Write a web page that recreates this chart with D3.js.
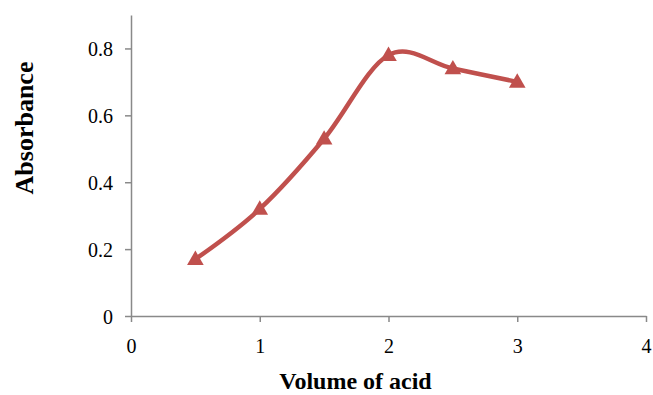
<!DOCTYPE html>
<html>
<head>
<meta charset="utf-8">
<script src="https://cdn.jsdelivr.net/npm/d3@7"></script>
<style>
  body { margin: 0; background: #fff; }
  text { font-family: "Liberation Serif", "Times New Roman", serif; }
</style>
</head>
<body>
<div id="container"></div>
<script>
var WIDTH = 653;
var HEIGHT = 395;

// data
const volume = [0.5, 1, 1.5, 2, 2.5, 3];
const absorbance = [0.17, 0.32, 0.53, 0.78, 0.74, 0.70];
const xTicks = [0, 1, 2, 3, 4];
const yTicks = [0, 0.2, 0.4, 0.6, 0.8];

const svg = d3.select('#container')
  .append('svg')
    .attr('width', WIDTH)
    .attr('height', HEIGHT);

const x = d3.scaleLinear().domain([0, 4]).range([131, 646]);
const y = d3.scaleLinear().domain([0, 0.9]).range([316, 15]);

const axisColor = '#898989';

// y axis
const yAxis = svg.append('g')
  .attr('transform', `translate(${x(0)},0)`)
  .call(d3.axisLeft(y).tickValues(yTicks).tickSize(6).tickSizeOuter(0)
    .tickFormat(d => d === 0 ? '0' : d3.format('.1f')(d)));

// x axis
const xAxis = svg.append('g')
  .attr('transform', `translate(0,${y(0)})`)
  .call(d3.axisBottom(x).tickValues(xTicks).tickSize(6).tickSizeOuter(0)
    .tickFormat(d3.format('d')));

[yAxis, xAxis].forEach(ax => {
  ax.attr('font-size', null).attr('font-family', null);
  ax.select('.domain').attr('stroke', axisColor).attr('stroke-width', 1.5);
  ax.selectAll('.tick line').attr('stroke', axisColor).attr('stroke-width', 1.5);
  ax.selectAll('.tick text')
    .attr('fill', '#000')
    .style('font-size', '20px')
    .style('font-family', '"Liberation Serif", serif');
});
yAxis.selectAll('.tick text').attr('x', -18).attr('dy', '0.35em');
xAxis.selectAll('.tick text').attr('y', 37).attr('dy', 0);

// the curve
const points = volume.map((v, i) => [v, absorbance[i]]);
const line = d3.line()
  .x(d => x(d[0]))
  .y(d => y(d[1]))
  .curve(d3.curveCatmullRom.alpha(0));

svg.append('path')
  .datum(points)
  .attr('d', line)
  .attr('fill', 'none')
  .attr('stroke', '#C0504D')
  .attr('stroke-width', 4.5)
  .attr('stroke-linejoin', 'round');

// triangle markers
svg.selectAll('.marker')
  .data(points)
  .enter()
  .append('path')
  .attr('class', 'marker')
  .attr('d', d3.symbol().type(d3.symbolTriangle).size(120))
  .attr('transform', d => `translate(${x(d[0])},${y(d[1]) + 1})`)
  .attr('fill', '#C0504D');

// axis titles
svg.append('text')
  .attr('transform', `translate(33,128) rotate(-90)`)
  .attr('text-anchor', 'middle')
  .style('font-size', '26px')
  .style('font-weight', 'bold')
  .text('Absorbance');

svg.append('text')
  .attr('x', 355.5)
  .attr('y', 389)
  .attr('text-anchor', 'middle')
  .style('font-size', '24px')
  .style('font-weight', 'bold')
  .text('Volume of acid');
</script>
</body>
</html>
